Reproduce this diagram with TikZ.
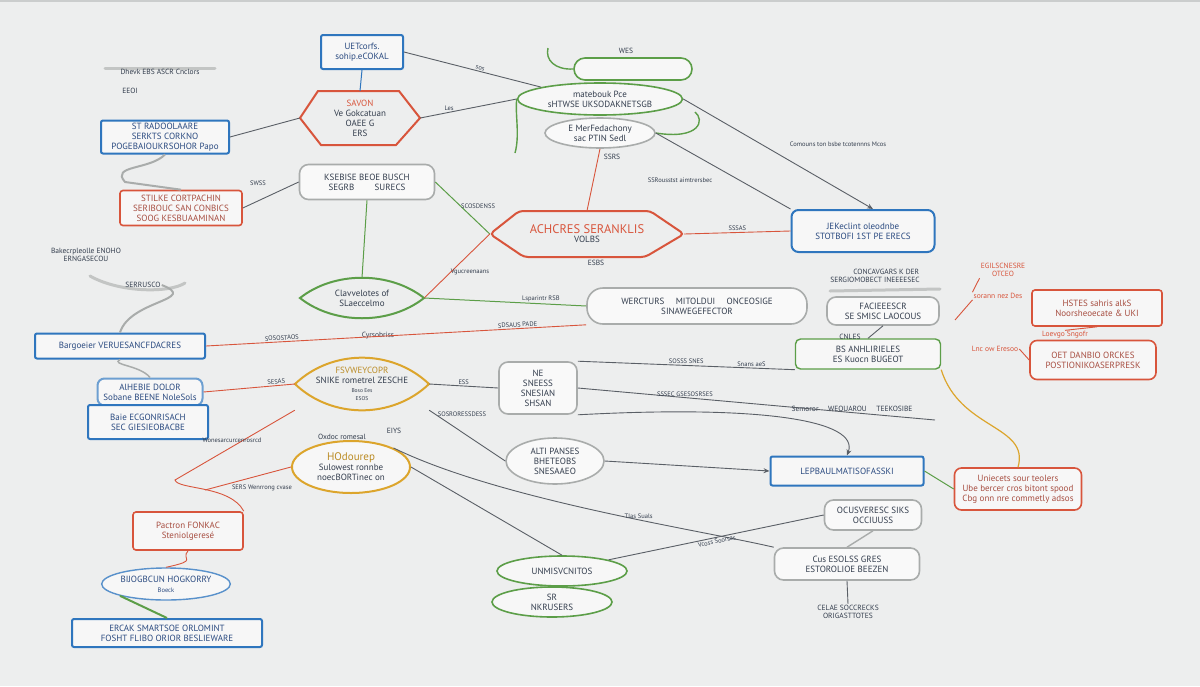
\documentclass[tikz,border=0pt]{standalone}
\usepackage{fontspec}
\setmainfont{PT Sans}
\usetikzlibrary{shapes.geometric,arrows.meta,calc}
\definecolor{bg}{HTML}{EDEEEE}
\definecolor{cblue}{HTML}{2F76BE}
\definecolor{cred}{HTML}{D8553C}
\definecolor{cgreen}{HTML}{5C9E48}
\definecolor{cgold}{HTML}{DCA52C}
\definecolor{cgrey}{HTML}{A9ACAB}
\definecolor{ink}{HTML}{333D4D}
\definecolor{inkblue}{HTML}{2A4A80}
\definecolor{wire}{HTML}{5A5F66}
\newcommand\leafpath[5]{\draw[#5] (#1-#3,#2) .. controls (#1-#3*0.45,#2-#4*1.35) and (#1+#3*0.45,#2-#4*1.35) .. (#1+#3,#2) .. controls (#1+#3*0.45,#2+#4*1.35) and (#1-#3*0.45,#2+#4*1.35) .. cycle;}
\newcommand\hexpath[5]{\draw[#5] (#1-#3,#2) -- (#1-#3*0.7,#2-#4) -- (#1+#3*0.65,#2-#4) -- (#1+#3,#2) -- (#1+#3*0.6,#2+#4) -- (#1-#3*0.65,#2+#4) -- cycle;}
\begin{document}
\begin{tikzpicture}[x=1pt,y=-1pt,
  txt/.style={font=\fontsize{9}{10}\selectfont, text=ink, align=center, inner sep=1pt},
  small/.style={font=\fontsize{7.5}{8.5}\selectfont, text=ink, align=center, inner sep=1pt},
  lbl/.style={font=\fontsize{6.5}{7}\selectfont, text=ink, inner sep=1pt},
  bluebox/.style={txt, draw=cblue, line width=2pt, fill=white!55!bg, text=inkblue, rounded corners=2pt},
  blueround/.style={bluebox, rounded corners=7pt},
  redbox/.style={txt, draw=cred, line width=1.6pt, fill=white!55!bg, text=cred!70!ink, rounded corners=3pt},
  redround/.style={redbox, rounded corners=7pt},
  greybox/.style={txt, draw=cgrey, line width=1.6pt, fill=white!65!bg, rounded corners=9pt},
  greenbox/.style={txt, draw=cgreen, line width=1.4pt, fill=white!55!bg, rounded corners=9pt},
  greenell/.style={txt, ellipse, draw=cgreen, line width=1.6pt, fill=white!55!bg, inner sep=0pt},
  greyell/.style={txt, ellipse, draw=cgrey, line width=1.6pt, fill=white!65!bg, inner sep=0pt},
  goldell/.style={txt, ellipse, draw=cgold, line width=2pt, fill=white!55!bg, inner sep=0pt},
  blueell/.style={txt, ellipse, draw=cblue!80, line width=1.4pt, fill=white!55!bg, text=inkblue, inner sep=0pt},
  plain/.style={txt, inner sep=0pt},
  wireline/.style={draw=wire, line width=0.9pt},
  redline/.style={draw=cred, line width=0.9pt},
  greenline/.style={draw=cgreen, line width=1pt},
  goldline/.style={draw=cgold, line width=1.2pt},
  swoosh/.style={draw=cgrey!70, line width=3pt, line cap=round},
  arr/.style={-{Stealth[length=6pt,width=5pt]}}
]
\fill[bg] (0,0) rectangle (1200,686);
\useasboundingbox (0,0) rectangle (1200,686);
\draw[cgrey!60, line width=1.5pt] (0,0.75) -- (1200,0.75);

% ---------------- top left ----------------
\node[bluebox, minimum width=82, minimum height=34] (n1) at (362,52) {UETcorfs.\\sohip.eCOKAL};
\node[plain, minimum width=120, minimum height=54] (n2) at (360,118) {\textcolor{cred}{SAVON}\\Ve Gokcatuan\\OAEE G\\ERS};
\hexpath{360}{118}{60}{27}{cred, line width=2pt}
\draw[swoosh] (105,68) -- (215,68);
\node[small] (t3) at (160,72) {Dhevk EBS ASCR Cnclors};
\node[small] (t3b) at (130,91) {EEOI};
\node[bluebox, minimum width=128, minimum height=33] (n4) at (165,137) {ST RADOOLAARE\\SERKTS CORKNO\\POGEBAIOUKRSOHOR Papo};
\node[redbox, minimum width=122, minimum height=35] (n5) at (181,208) {STILKE CORTPACHIN\\SERIBOUC SAN CONBICS\\SOOG KESBUAAMINAN};
\node[greybox, minimum width=135, minimum height=35] (n6) at (367,182) {KSEBISE BEOE BUSCH\\SEGRB \qquad SURECS};

% ---------------- top centre ----------------
\node[draw=cgreen, line width=1.6pt, rounded corners=11pt, fill=white!55!bg, minimum width=118, minimum height=22] (n7) at (633,69) {};
\node[small] (t7) at (626,51) {WES};
\node[greenell, minimum width=165, minimum height=32] (n8) at (600,99) {matebouk Pce\\sHTWSE UKSODAKNETSGB};
\node[greyell, minimum width=110, minimum height=30] (n9) at (600,133) {E MerFedachony\\sac PTIN Sedl};
\node[small] (t9) at (612,157) {SSRS};
\node[plain, minimum width=194, minimum height=46] (n10) at (587,234) {{\fontsize{12.5}{13}\selectfont\textcolor{cred}{ACHCRES SERANKLIS}}\\[-1pt]VOLBS};
\hexpath{587}{234}{97}{23}{cred, line width=2pt, rounded corners=4pt}
\node[small] (t10) at (596,263) {ESBS};
\node[blueround, minimum width=143, minimum height=42] (n11) at (863,231) {JEKeclint oleodnbe\\STOTBOFI 1ST PE ERECS};

% ---------------- middle left ----------------
\node[plain, minimum width=124, minimum height=40] (n12) at (362,298) {Clavvelotes of\\SLaeccelmo};
\leafpath{362}{298}{62}{20}{cgreen, line width=2pt}
\node[small] (t12) at (378,336) {Cyrsobriss};
\node[small] (t37) at (86,255) {Bakecrpleolle ENOHO\\ERNGASECOU};
\draw[swoosh] (90,276) .. controls (120,293) and (170,293) .. (185,283);
\node[small] (t37b) at (143,285) {SERRUSCO};
\node[bluebox, minimum width=170, minimum height=25] (n13) at (120,346) {Bargoeier VERUESANCFDACRES};
\node[blueround, minimum width=105, minimum height=27, draw=cblue!70] (n14) at (150,392) {AlHEBIE DOLOR\\Sobane BEENE NoleSols};
\node[bluebox, minimum width=120, minimum height=34] (n15) at (148,422) {Baie ECGONRISACH\\SEC GIESIEOBACBE};
\node[plain, minimum width=134, minimum height=52] (n16) at (362,384) {\textcolor{cgold!85!black}{FSVWEYCOPR}\\SNIKE rometrel ZESCHE\\[-1pt]{\fontsize{5.5}{6}\selectfont Boso Ees}\\[-2pt]{\fontsize{5.5}{6}\selectfont ESOS}};
\leafpath{362}{384}{67}{26}{cgold, line width=2pt}
\node[goldell, minimum width=118, minimum height=52] (n17) at (351,467) {{\fontsize{11}{12}\selectfont\textcolor{cgold!85!black}{HOdourep}}\\Sulowest ronnbe\\noecBORTinec on};
\node[small] (t17) at (342,437) {Oxdoc romesal};
\node[small] (t17b) at (394,431) {EIYS};

% ---------------- bottom left ----------------
\node[redbox, minimum width=110, minimum height=38] (n18) at (188,531) {Pactron FONKAC\\Steniolgeresé};
\node[blueell, minimum width=128, minimum height=32] (n19) at (166,584) {BIJOGBCUN HOGKORRY\\{\fontsize{6.5}{7}\selectfont Boeck}};
\node[bluebox, minimum width=190, minimum height=28] (n20) at (167,633) {ERCAK SMARTSOE ORLOMINT\\FOSHT FLIBO ORIOR BESLIEWARE};

% ---------------- middle right ----------------
\node[greybox, minimum width=220, minimum height=36, rounded corners=16pt] (n21) at (697,306) {WERCTURS \quad MITOLDUI \quad ONCEOSIGE\\SINAWEGEFECTOR};
\draw[swoosh] (830,291) -- (940,289);
\node[small] (t22) at (875,276) {\hspace*{3em}CONCAVGARS K DER\\SERGIOMOBECT INEEEESEC};
\node[greybox, minimum width=112, minimum height=28] (n23) at (883,311) {FACIEEESCR\\SE SMISC LAOCOUS};
\node[greenbox, minimum width=145, minimum height=30, rounded corners=5pt] (n24) at (868,354) {BS ANHLIRIELES\\ES Kuocn BUGEOT};
\node[small] (t24) at (850,337) {CNLES};
\node[greybox, minimum width=78, minimum height=52] (n25) at (538,388) {NE\\SNEESS\\SNESIAN\\SHSAN};
\node[small] (t26) at (852,409) {Semoror \quad WEOUAROU \quad TEEKOSIBE};
\node[bluebox, minimum width=153, minimum height=29] (n27) at (847,471) {LEPBAULMATISOFASSKI};
\node[greyell, minimum width=98, minimum height=46] (n28) at (555,461) {ALTI PANSES\\BHETEOBS\\SNESAAEO};

% ---------------- right side ----------------
\node[redround, minimum width=127, minimum height=42] (n29) at (1018,489) {Uniecets sour teolers\\Ube bercer cros bitont spood\\Cbg onn nre commetly adsos};
\node[redbox, minimum width=130, minimum height=36] (n30) at (1097,308) {HSTES sahris alkS\\Noorsheoecate \& UKI};
\node[redround, minimum width=126, minimum height=39] (n31) at (1093,360) {OET DANBIO ORCKES\\POSTIONIKOASERPRESK};
\node[small, text=cred] (t32) at (1003,270) {EGILSCNESRE\\OTCEO};
\node[small, text=cred] (t32b) at (998,296) {sorann nez Des};
\node[small, text=cred] (t32c) at (1065,335) {Loevgo Sngofr};
\node[small, text=cred] (t32d) at (995,349) {Lnc ow Eresoo};
\node[greybox, minimum width=97, minimum height=30] (n33) at (873,515) {OCUSVERESC SIKS\\OCCIUUSS};
\node[greybox, minimum width=145, minimum height=32] (n34) at (847,564) {Cus ESOLSS GRES\\ESTOROLIOE BEEZEN};
\node[small] (t35) at (848,612) {CELAE SOCCRECKS\\ORIGASTTOTES};

% ---------------- bottom centre ----------------
\node[greenell, minimum width=130, minimum height=30] (n36) at (562,571) {UNMISVCNITOS};
\node[greenell, minimum width=120, minimum height=30] (n37) at (552,602) {SR\\NKRUSERS};

% ================= connectors =================
\draw[wireline] (n1.east) -- node[lbl, above, sloped, pos=0.55] {sos} (n8.north west);
\draw[cblue, line width=1pt] (n1.south) -- (n2.north);
\draw[wireline] (n4.east) -- (n2.west);
\draw[wireline] (n2.east) -- node[lbl, above, pos=0.3] {Les} (n8.west);
\draw[greenline, line width=1.4pt] (n8.west) .. controls (515,115) and (520,135) .. (515,153);
\draw[greenline, line width=1.4pt] (n9.east) .. controls (700,140) and (705,120) .. (695,112);
\draw[greenline, line width=1.4pt] (n7.west) .. controls (555,70) and (545,60) .. (548,48);
\draw[cgrey, line width=2pt] (n4.south) .. controls (150,170) and (110,165) .. (125,182) -- (n5.north);
\draw[wireline] (n5.east) -- (n6.west);
\node[lbl] (l5) at (258,183) {SWSS};
\draw[wireline, arr] (n8.east) -- ([xshift=10pt]n11.north);
\node[lbl] (l6) at (838,144) {Comouns ton bsbe tcotennns Mcos};
\draw[wireline] (n9.east) -- (n11.north west);
\node[lbl] (l7) at (680,180) {SSRousstst aimtrersbec};
\draw[redline] (n9.south) -- (n10.north);
\draw[greenline] (n6.east) -- (n10.west);
\node[lbl] (l0) at (478,206) {SCOSDENSS};
\draw[redline] (n10.east) -- node[lbl, above] {SSSAS} (n11.west);
\draw[redline] (n10.west) -- (n12.east);
\node[lbl] (l1) at (470,272) {Vgucreenaans};
\draw[greenline] (n12.north) -- (n6.south);
\draw[greenline] (n12.east) -- node[lbl, above, pos=0.72] {Lsparintr RSB} (n21.west);
\draw[cgrey, line width=2pt] (t37b.east) .. controls (200,300) and (130,300) .. (n13.north);
\draw[redline] (n13.east) -- node[lbl, above, sloped, pos=0.2] {SOSOSTAOS} node[lbl, above, sloped, pos=0.82] {SDSAUS PADE} (n21.south west);
\draw[cgrey, line width=1.5pt] (n13.south) .. controls (110,365) and (140,365) .. (n14.north);
\draw[redline] (n14.east) -- node[lbl, above, sloped, pos=0.8] {SESAS} (n16.west);
\draw[redline] (n16.south west) -- (175,480) .. controls (178,490) and (230,485) .. (n18.north east);
\node[lbl] (l2) at (232,440) {Wonesarcurcenrosrcd};
\draw[redline] (n17.west) -- (205,490);
\node[lbl] (l3) at (262,488) {SERS Wenrrong cvase};
\draw[wireline] (n16.east) -- node[lbl, above] {ESS} (n25.west);
\draw[wireline] (n25.north east) -- node[lbl, above] {SOSSS SNES} node[lbl, above, pos=0.8] {Snans aeS} (n24.south west);
\draw[wireline] (n25.east) -- node[lbl, above, pos=0.3] {SSSEC GSESOSRSES} (935,420);
\draw[wireline, arr] (n25.south east) .. controls (760,405) and (860,420) .. (n27.north);
\draw[wireline, arr] (n28.east) -- (n27.west);
\draw[wireline] (n16.south east) -- (n28.west);
\node[lbl] (l4) at (462,414) {SOSRORESSDESS};
\draw[wireline] (n17.east) -- (n36.north);
\draw[wireline] (n17.north east) .. controls (500,500) and (700,530) .. node[lbl, above, pos=0.6] {Tlas Suals} (n34.north west);
\draw[wireline] (n36.north east) -- node[lbl, below, sloped] {Vcoss Soorsas} (n33.west);
\draw[greenline] (n27.east) -- (n29.west);
\draw[goldline] (n24.south east) .. controls (960,430) and (1030,425) .. (n29.north);
\draw[redline] (n18.south) .. controls (180,560) and (200,560) .. (n19.north);
\draw[greenline, line width=2pt] (n19.south west) -- (n20.north);
\draw[redline] (t32b.south west) -- (955,320);
\draw[redline] (t32.south west) -- (t32b.north west);
\draw[redline] (t32d.east) -- (n31.west);
\draw[redline] (t32c.north) -- (n30.south);
\draw[greenline] (n36.south) -- (n37.north);
\draw[wireline] (n23.south) -- (n24.north);
\draw[cgrey, line width=1.4pt] (n33.south) -- (n34.north);
\draw[wireline] (n34.south) -- (t35.north);
\end{tikzpicture}
\end{document}
